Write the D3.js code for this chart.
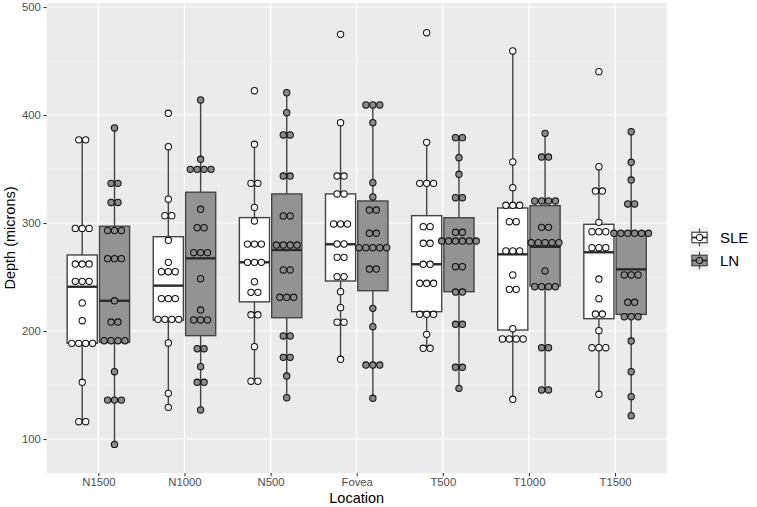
<!DOCTYPE html>
<html>
<head>
<meta charset="utf-8">
<script src="https://cdn.jsdelivr.net/npm/d3@7"></script>
<style>
  html, body { margin: 0; padding: 0; background: #ffffff; }
  svg { display: block; font-family: "Liberation Sans", Arial, Helvetica, sans-serif; }
</style>
</head>
<body>
<svg id="chart" width="757" height="507"></svg>
<script>
// ---------------- data ----------------
const locations = ["N1500", "N1000", "N500", "Fovea", "T500", "T1000", "T1500"];
const groups = ["SLE", "LN"];
const yTickValues = [100, 200, 300, 400, 500];
const yMinorValues = [150, 250, 350, 450];

// individual depths (dot plot), one array per location
const sleDepth = [
  [377, 377, 295, 295, 295, 262, 262, 262, 246, 246, 246, 226, 209.5, 188.6, 188.6, 188.6, 188.6, 152.5, 116, 116],
  [401.6, 370.7, 322, 306.8, 306.8, 284, 263.6, 254.9, 254.9, 254.9, 230, 230, 230, 210.8, 210.8, 210.8, 210.8, 189, 142.3, 129.3],
  [422.5, 372.9, 336.7, 336.7, 314.5, 301.9, 280.5, 280.5, 280.5, 263.6, 263.6, 263.6, 245.6, 235.8, 235.8, 215, 215, 185.5, 153.5, 153.5],
  [474.7, 392.9, 343.5, 343.5, 326.9, 326.9, 299.1, 299.1, 299.1, 280.6, 280.6, 268.2, 268.2, 250.3, 250.3, 236.4, 221.6, 208.1, 208.1, 173.8],
  [476.2, 374.7, 336.7, 336.7, 336.7, 296.6, 296.6, 281.2, 281.2, 261.8, 261.8, 244.2, 244.2, 244.2, 215.5, 215.5, 215.5, 196.9, 184, 184],
  [459.3, 356.5, 332.7, 316.4, 316.4, 316.4, 301.2, 301.2, 274.1, 274.1, 274.1, 251.9, 238.6, 238.6, 202.1, 192.6, 192.6, 192.6, 192.6, 136.8],
  [440.1, 352.1, 329.6, 329.6, 300.6, 291.9, 291.9, 291.9, 277.1, 277.1, 277.1, 248.1, 229.9, 215.7, 215.7, 200.3, 184.5, 184.5, 184.5, 141.4]
];
const lnDepth = [
  [388, 336.7, 336.7, 319, 319, 293, 293, 293, 267, 267, 267, 228, 208.3, 208.3, 191, 191, 191, 191, 162.3, 136, 136, 136, 95],
  [413.9, 359, 349.7, 349.7, 349.7, 349.7, 312.7, 295.6, 295.6, 272.5, 272.5, 272.5, 248.4, 219.4, 210.2, 210.2, 210.2, 183.6, 183.6, 167, 152.5, 152.5, 126.9],
  [420.6, 402.1, 381.5, 381.5, 343.5, 343.5, 306.5, 306.5, 279.6, 279.6, 279.6, 279.6, 256.5, 256.5, 231.2, 231.2, 231.2, 195.4, 195.4, 175.6, 175.6, 158.3, 138.2],
  [409.3, 409.3, 409.3, 392.9, 337.3, 324.1, 312, 312, 290.5, 290.5, 277.1, 277.1, 277.1, 277.1, 277.1, 257.4, 257.4, 221, 204, 168.5, 168.5, 168.5, 137.7],
  [379, 379, 360.5, 345.1, 323.4, 323.4, 291.4, 291.4, 283.3, 283.3, 283.3, 283.3, 283.3, 283.3, 259.5, 259.5, 236.1, 236.1, 206.2, 206.2, 166.4, 166.4, 146.9],
  [383, 361.1, 361.1, 320.4, 320.4, 320.4, 320.4, 296, 296, 281.8, 281.8, 281.8, 281.8, 281.8, 255.6, 241, 241, 241, 241, 184.5, 184.5, 145.4, 145.4],
  [384.5, 356.2, 339.8, 317.6, 317.6, 290.5, 290.5, 290.5, 290.5, 290.5, 290.5, 251.9, 251.9, 251.9, 226.6, 226.6, 213.2, 213.2, 213.2, 190.7, 162.3, 139.2, 121.6]
];

// box-plot statistics as drawn in the picture
const sleQ1     = [188.6, 210, 227, 246.3, 217.9, 200.9, 211.4];
const sleMedian = [241, 242, 263.6, 280.3, 261.8, 271, 272.9];
const sleQ3     = [270.4, 287.3, 305, 326.9, 306.8, 313.9, 298.8];
const sleLow    = [116, 129.3, 153.5, 173.8, 184, 136.8, 141.4];
const sleHigh   = [377, 370.7, 372.9, 392.9, 374.7, 459.3, 352.1];
const lnQ1      = [189.5, 195.7, 212.3, 237.3, 236.4, 241.7, 215.4];
const lnMedian  = [228, 267.3, 275, 277, 282.5, 278, 257.1];
const lnQ3      = [297, 328.5, 326.9, 320.4, 304.9, 316.1, 291.5];
const lnLow     = [95, 126.9, 138.2, 137.7, 146.9, 145.4, 121.6];
const lnHigh    = [388, 413.9, 420.6, 409.3, 379, 383, 384.5];

// ---------------- layout ----------------
const svg = d3.select("#chart");
const panel = { left: 46.7, right: 666.7, top: 3, bottom: 473 };
const fills = { SLE: "#ffffff", LN: "#939393" };
const dotFills = { SLE: "#ffffff", LN: "#8a8a8a" };

const x = d3.scalePoint().domain(locations).range([panel.left, panel.right]).padding(0.6);
const step = x.step();
const y = d3.scaleLinear().domain([100, 500]).range([439, 7]);
const dodge = { SLE: -0.1875 * step, LN: 0.1875 * step };
const boxW = 0.35 * step;
const binwidth = 6.4;                         // dot bin width in data units
const dotD = Math.abs(y(0) - y(binwidth));    // dot diameter in px

// panel background
svg.append("rect").attr("x", panel.left).attr("y", panel.top)
  .attr("width", panel.right - panel.left).attr("height", panel.bottom - panel.top)
  .attr("fill", "#EBEBEB");

// grid
const grid = svg.append("g");
grid.selectAll("line.minor").data(yMinorValues).join("line")
  .attr("x1", panel.left).attr("x2", panel.right)
  .attr("y1", d => y(d)).attr("y2", d => y(d))
  .attr("stroke", "#F5F5F5").attr("stroke-width", 0.6);
grid.selectAll("line.major").data(yTickValues).join("line")
  .attr("x1", panel.left).attr("x2", panel.right)
  .attr("y1", d => y(d)).attr("y2", d => y(d))
  .attr("stroke", "#ffffff").attr("stroke-width", 1.2);
grid.selectAll("line.vmajor").data(locations).join("line")
  .attr("x1", d => x(d)).attr("x2", d => x(d))
  .attr("y1", panel.top).attr("y2", panel.bottom)
  .attr("stroke", "#ffffff").attr("stroke-width", 1.2);

// boxes
const boxData = [];
locations.forEach((loc, i) => {
  boxData.push({ loc, g: "SLE", q1: sleQ1[i], med: sleMedian[i], q3: sleQ3[i], lo: sleLow[i], hi: sleHigh[i] });
  boxData.push({ loc, g: "LN", q1: lnQ1[i], med: lnMedian[i], q3: lnQ3[i], lo: lnLow[i], hi: lnHigh[i] });
});
const boxes = svg.append("g").selectAll("g").data(boxData).join("g");
const lineCol = "#444444";
boxes.append("line")
  .attr("x1", d => x(d.loc) + dodge[d.g]).attr("x2", d => x(d.loc) + dodge[d.g])
  .attr("y1", d => y(d.hi)).attr("y2", d => y(d.q3))
  .attr("stroke", lineCol).attr("stroke-width", 1.4);
boxes.append("line")
  .attr("x1", d => x(d.loc) + dodge[d.g]).attr("x2", d => x(d.loc) + dodge[d.g])
  .attr("y1", d => y(d.q1)).attr("y2", d => y(d.lo))
  .attr("stroke", lineCol).attr("stroke-width", 1.4);
boxes.append("rect")
  .attr("x", d => x(d.loc) + dodge[d.g] - boxW / 2)
  .attr("width", boxW)
  .attr("y", d => y(d.q3))
  .attr("height", d => y(d.q1) - y(d.q3))
  .attr("fill", d => fills[d.g])
  .attr("stroke", lineCol).attr("stroke-width", 1.4);
boxes.append("line")
  .attr("x1", d => x(d.loc) + dodge[d.g] - boxW / 2)
  .attr("x2", d => x(d.loc) + dodge[d.g] + boxW / 2)
  .attr("y1", d => y(d.med)).attr("y2", d => y(d.med))
  .attr("stroke", "#2a2a2a").attr("stroke-width", 2.4);

// dots (centre-stacked dot plot)
const dotData = [];
locations.forEach((loc, i) => {
  [["SLE", sleDepth[i]], ["LN", lnDepth[i]]].forEach(([g, vals]) => {
    const counts = d3.rollup(vals, v => v.length, v => v);
    counts.forEach((n, val) => {
      for (let k = 0; k < n; k++) {
        dotData.push({ loc, g, val, off: (k - (n - 1) / 2) * dotD });
      }
    });
  });
});
svg.append("g").selectAll("circle").data(dotData).join("circle")
  .attr("cx", d => x(d.loc) + dodge[d.g] + d.off)
  .attr("cy", d => y(d.val))
  .attr("r", dotD / 2 - 0.3)
  .attr("fill", d => dotFills[d.g])
  .attr("stroke", "#111").attr("stroke-width", 1.05);

// axes
const yAxis = svg.append("g").attr("transform", `translate(${panel.left},0)`)
  .call(d3.axisLeft(y).tickValues(yTickValues).tickSize(3.3).tickPadding(2.5));
const xAxis = svg.append("g").attr("transform", `translate(0,${panel.bottom})`)
  .call(d3.axisBottom(x).tickSize(3.3).tickPadding(2));
[yAxis, xAxis].forEach(a => {
  a.select(".domain").remove();
  a.selectAll(".tick line").attr("stroke", "#333333").attr("stroke-width", 1.1);
  a.selectAll(".tick text").attr("fill", "#4D4D4D")
    .style("font-size", "11.3px").style("font-family", "'Liberation Sans', Arial, sans-serif");
});

// axis titles
svg.append("text").attr("x", (panel.left + panel.right) / 2).attr("y", 503)
  .attr("text-anchor", "middle").attr("fill", "#000")
  .style("font-size", "14.5px").text("Location");
svg.append("text").attr("transform", `translate(15,${(panel.top + panel.bottom) / 2}) rotate(-90)`)
  .attr("text-anchor", "middle").attr("fill", "#000")
  .style("font-size", "14.5px").text("Depth (microns)");

// legend
const legend = svg.append("g").attr("transform", "translate(690,227)");
const keyW = 19, keyH = 21;
groups.forEach((g, i) => {
  const k = legend.append("g").attr("transform", `translate(0,${i * (keyH + 2)})`);
  k.append("rect").attr("width", keyW).attr("height", keyH).attr("fill", "#F2F2F2");
  k.append("line").attr("x1", keyW / 2).attr("x2", keyW / 2).attr("y1", keyH * 0.08).attr("y2", keyH * 0.92)
    .attr("stroke", lineCol).attr("stroke-width", 1.2);
  k.append("rect").attr("x", keyW * 0.1).attr("width", keyW * 0.8)
    .attr("y", keyH * 0.25).attr("height", keyH * 0.5)
    .attr("fill", fills[g]).attr("stroke", lineCol).attr("stroke-width", 1.2);
  k.append("line").attr("x1", keyW * 0.1).attr("x2", keyW * 0.9).attr("y1", keyH / 2).attr("y2", keyH / 2)
    .attr("stroke", "#2a2a2a").attr("stroke-width", 1.8);
  k.append("circle").attr("cx", keyW / 2).attr("cy", keyH / 2).attr("r", dotD / 2 - 0.3)
    .attr("fill", dotFills[g]).attr("stroke", "#111").attr("stroke-width", 1.05);
  k.append("text").attr("x", keyW + 11).attr("y", keyH / 2).attr("dy", "0.36em")
    .attr("fill", "#000").style("font-size", "15px").text(g);
});
</script>
</body>
</html>
